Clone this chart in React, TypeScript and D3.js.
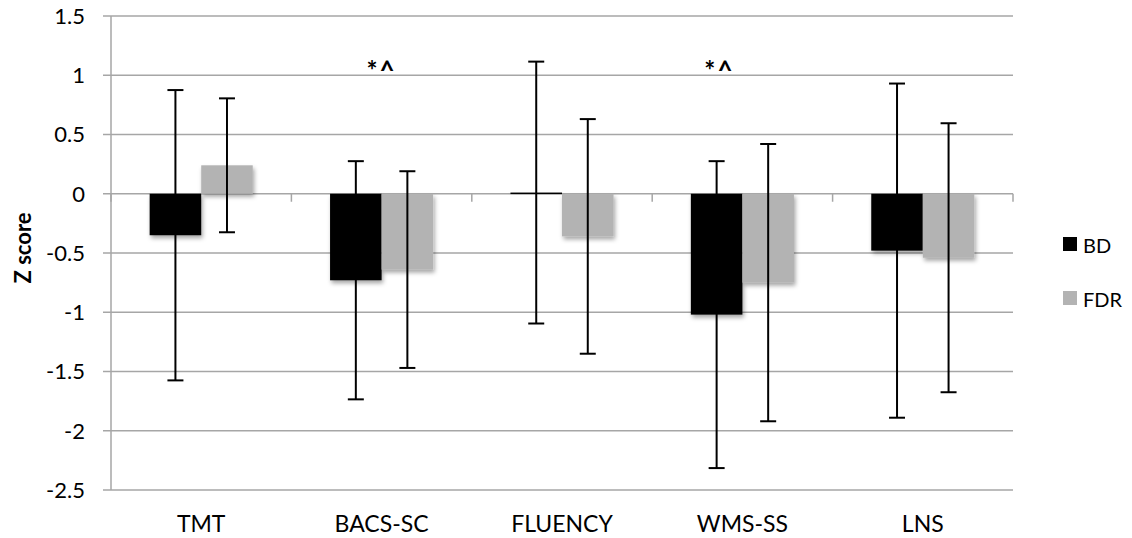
import React from "react";
import * as d3 from "d3";

const categories = ["TMT", "BACS-SC", "FLUENCY", "WMS-SS", "LNS"];
const seriesNames = ["BD", "FDR"];
const bdMeans = [-0.35, -0.73, 0.01, -1.02, -0.48];
const bdSD = [1.225, 1.005, 1.105, 1.295, 1.41];
const fdrMeans = [0.24, -0.64, -0.36, -0.75, -0.54];
const fdrSD = [0.565, 0.83, 0.99, 1.17, 1.135];
const yTicks = [1.5, 1, 0.5, 0, -0.5, -1, -1.5, -2, -2.5];
const annotations = [
  { category: "BACS-SC", text: "*^", offset: 0 },
  { category: "WMS-SS", text: "*^", offset: -23 },
];

const W = 1132;
const H = 538;
const margin = { left: 111, right: 1013, top: 16, bottom: 490 };
const FONT = "Lato, 'Open Sans', sans-serif";
const GRID = "#a6a6a6";
const colors = { BD: "#000000", FDR: "#b3b3b3" };

export default function App() {
  const x0 = d3.scaleBand<string>().domain(categories).range([margin.left, margin.right]).paddingInner(0).paddingOuter(0);
  const x1 = d3.scaleBand<string>().domain(seriesNames).range([0, x0.bandwidth()]).paddingInner(0).paddingOuter(0.75);
  const y = d3.scaleLinear().domain([-2.5, 1.5]).range([margin.bottom, margin.top]);

  const data = categories.map((c, i) => ({
    category: c,
    values: [
      { series: "BD", mean: bdMeans[i], sd: bdSD[i] },
      { series: "FDR", mean: fdrMeans[i], sd: fdrSD[i] },
    ],
  }));

  const catBoundaries = categories.map((c) => (x0(c) as number) + x0.bandwidth()).concat([margin.left]);
  const capW = 8;

  return (
    <svg width={W} height={H} style={{ position: "absolute", left: 0, top: 0, background: "#fff" }} fontFamily={FONT}>
      <defs>
        <filter id="shadow" x="-20%" y="-20%" width="150%" height="150%">
          <feDropShadow dx="1.5" dy="3" stdDeviation="2" floodColor="#000" floodOpacity="0.35" />
        </filter>
      </defs>
      <rect x={0} y={0} width={W} height={H} fill="#fff" />
      {/* gridlines */}
      {yTicks.map((t) => (
        <line key={t} x1={margin.left - 8} x2={margin.right} y1={y(t)} y2={y(t)} stroke={GRID} strokeWidth={1.5} />
      ))}
      {/* y axis */}
      <line x1={margin.left} x2={margin.left} y1={margin.top} y2={margin.bottom} stroke={GRID} strokeWidth={1.5} />
      {/* category ticks at zero line */}
      {catBoundaries.map((bx, i) => (
        <line key={i} x1={bx} x2={bx} y1={y(0)} y2={y(0) + 8} stroke={GRID} strokeWidth={1.5} />
      ))}
      {/* y tick labels */}
      {yTicks.map((t) => (
        <text key={t} x={85} y={y(t)} dy="0.36em" textAnchor="end" fontSize={22} fill="#000">
          {String(t)}
        </text>
      ))}
      {/* bars */}
      {data.map((d) =>
        d.values.map((v) => {
          const bx = (x0(d.category) as number) + (x1(v.series) as number);
          const y0 = y(0);
          const yv = y(v.mean);
          return (
            <rect
              key={d.category + v.series}
              x={bx}
              y={Math.min(y0, yv)}
              width={x1.bandwidth()}
              height={Math.max(1.5, Math.abs(yv - y0))}
              fill={colors[v.series as "BD" | "FDR"]}
              filter="url(#shadow)"
            />
          );
        })
      )}
      {/* error bars */}
      {data.map((d) =>
        d.values.map((v) => {
          const cx = (x0(d.category) as number) + (x1(v.series) as number) + x1.bandwidth() / 2;
          const yt = y(v.mean + v.sd);
          const yb = y(v.mean - v.sd);
          return (
            <g key={"e" + d.category + v.series} stroke="#000" strokeWidth={2}>
              <line x1={cx} x2={cx} y1={yt} y2={yb} />
              <line x1={cx - capW} x2={cx + capW} y1={yt} y2={yt} />
              <line x1={cx - capW} x2={cx + capW} y1={yb} y2={yb} />
            </g>
          );
        })
      )}
      {/* category labels */}
      {categories.map((c) => (
        <text key={c} x={(x0(c) as number) + x0.bandwidth() / 2} y={532} textAnchor="middle" fontSize={23} fill="#000">
          {c}
        </text>
      ))}
      {/* annotations */}
      {annotations.map((a) => (
        <text
          key={a.category}
          x={(x0(a.category) as number) + x0.bandwidth() / 2 + a.offset}
          y={80}
          textAnchor="middle"
          fontSize={26}
          fontWeight={700}
          fill="#000"
          letterSpacing={2}
        >
          {a.text}
        </text>
      ))}
      {/* y axis title */}
      <text transform={`translate(31,248) rotate(-90)`} textAnchor="middle" fontSize={22} fontWeight={700} fill="#000">
        Z score
      </text>
      {/* legend */}
      {seriesNames.map((s, i) => (
        <g key={s}>
          <rect x={1063} y={237 + i * 54} width={14} height={14} fill={colors[s as "BD" | "FDR"]} />
          <text x={1083} y={253 + i * 54} fontSize={20} fill="#000">
            {s}
          </text>
        </g>
      ))}
    </svg>
  );
}
